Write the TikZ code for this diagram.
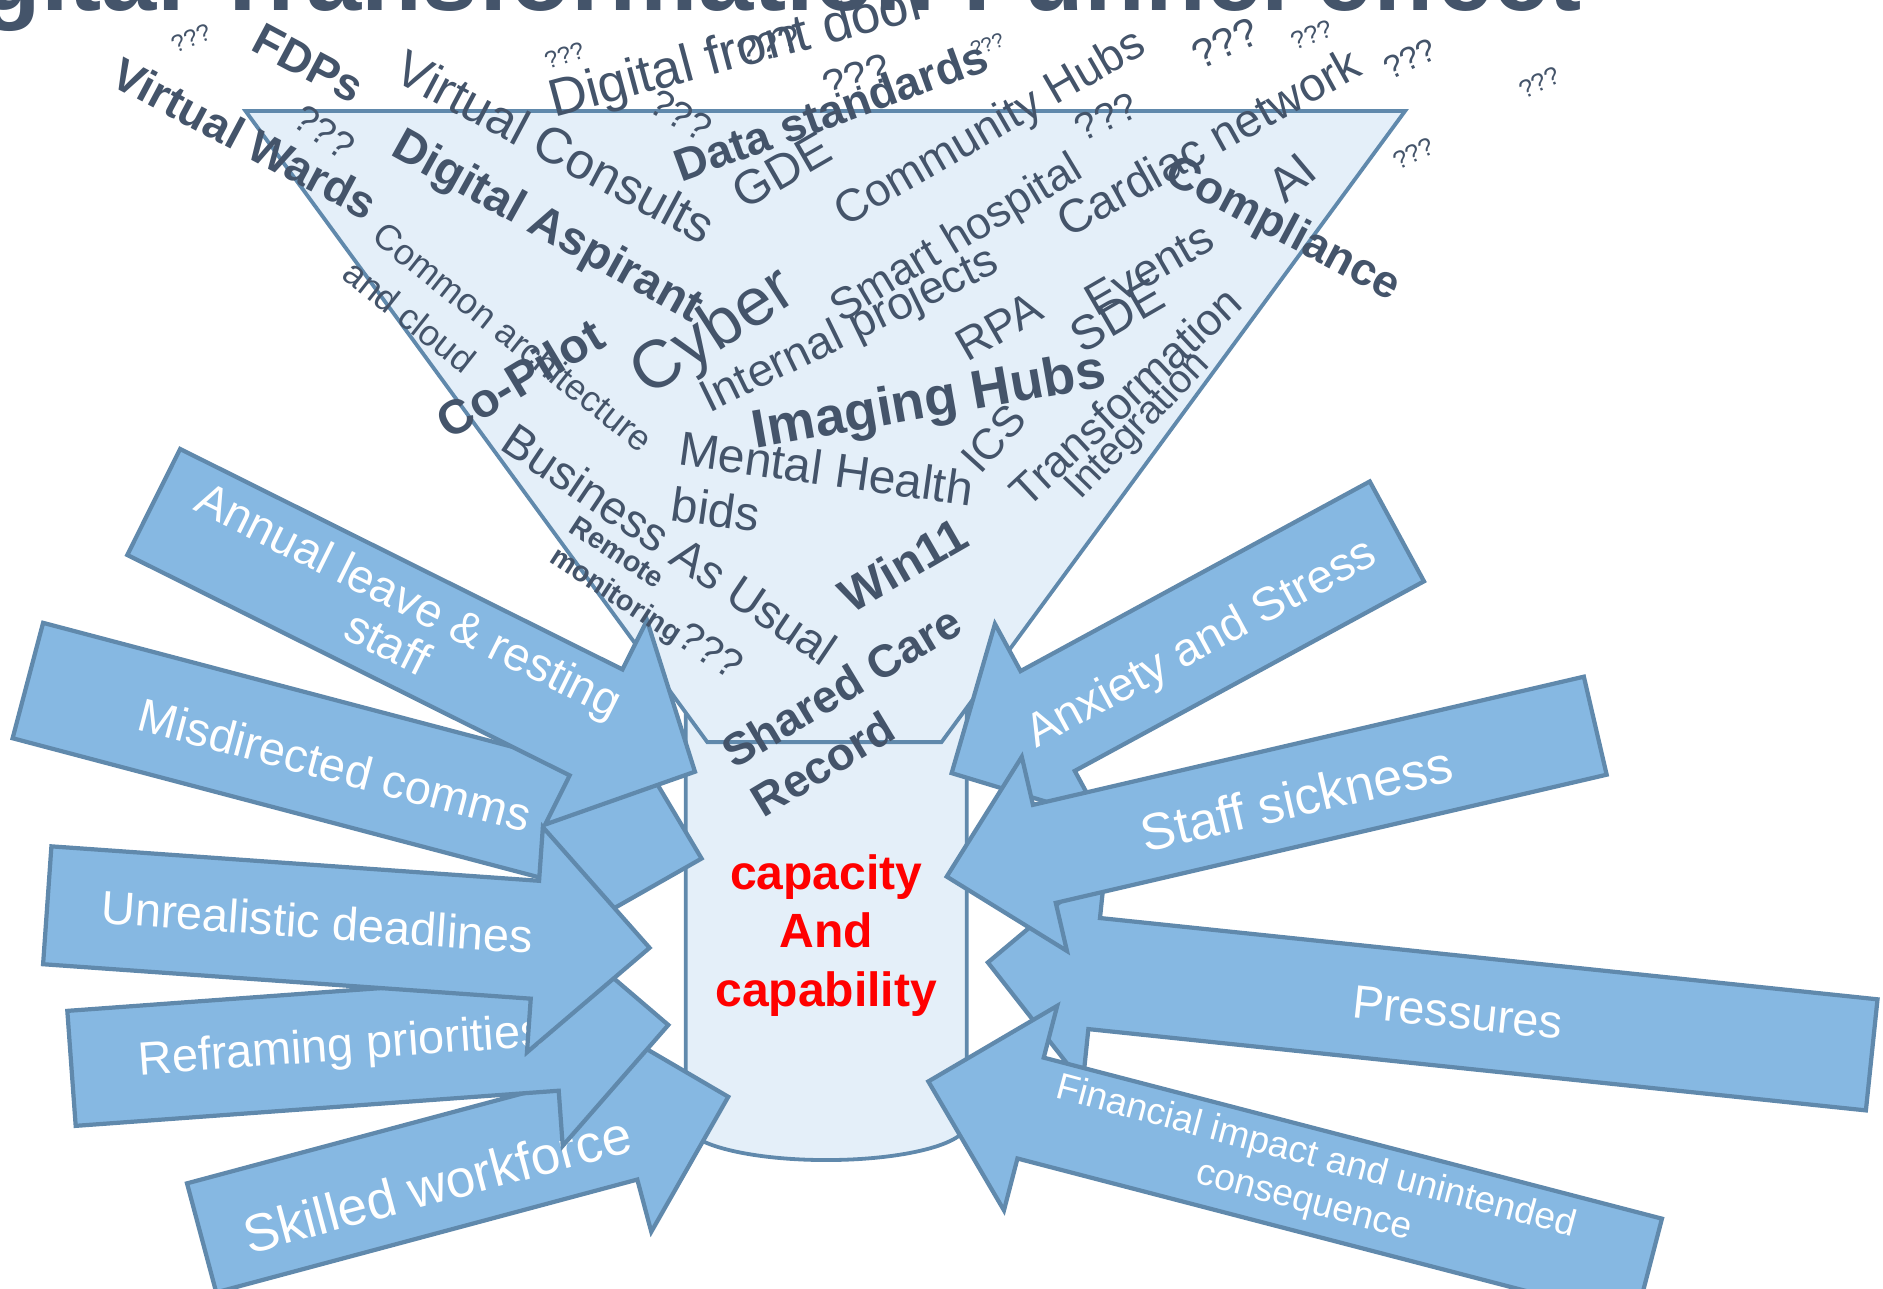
\documentclass[tikz,border=0pt]{standalone}
\usepackage{fontspec}
\setmainfont{Liberation Sans}
\definecolor{slate}{HTML}{44546A}
\definecolor{funnelfill}{HTML}{E4EFF9}
\definecolor{edgeblue}{HTML}{6089AC}
\definecolor{arrowfill}{HTML}{86B8E2}
\newcommand{\px}[1]{\fontsize{\fpeval{0.2845*#1}pt}{\fpeval{0.34*#1}pt}\selectfont}
\newcommand{\pxs}[2]{\fontsize{\fpeval{0.2845*#1}pt}{\fpeval{0.2845*#2}pt}\selectfont}
\newcommand{\blockarrow}[6]{%
  \begin{scope}[shift={(#1)},rotate=#2]
    \draw[blockbox] (0,#4) -- ({#3-#6},#4) -- ({#3-#6},#5) -- (#3,0) -- ({#3-#6},-#5) -- ({#3-#6},-#4) -- (0,-#4) -- cycle;
  \end{scope}}

\begin{document}
\begin{tikzpicture}[x=0.01cm,y=-0.01cm,word/.style={text=slate,inner sep=0pt},tag/.style={text=white,inner sep=0pt,align=center},blockbox/.style={draw=edgeblue,fill=arrowfill,line width=1pt},funnelbox/.style={draw=edgeblue,fill=funnelfill,line width=0.9pt}]
    \useasboundingbox (0,0) rectangle (1568,1073);
    \clip (0,0) rectangle (1568,1073);
    \draw[funnelbox] (571,585) -- (571,936) arc[start angle=180,end angle=0,x radius=117,y radius=30] -- (805,585) arc[start angle=0,end angle=-180,x radius=117,y radius=30] -- cycle;
    \draw[funnelbox] (204.5,92.5) -- (1170,92.5) -- (784,618) -- (589,618) -- cycle;
    \node[text=red,inner sep=0pt,align=center,font=\bfseries\pxs{40}{49}] (cap) at (688,779) {capacity\\And\\capability};

    \blockarrow{167.9,1030.8}{15}{454}{47}{92}{91}
    \node[tag,font=\px{44},rotate=15] (skilled) at (364,986) {Skilled workforce};
    \blockarrow{59.55,889.65}{4.16}{498.3}{48}{94}{95}
    \node[tag,font=\px{39},rotate=4.16] (reframe) at (284,873) {Reframing priorities};
    \blockarrow{23.2,566.7}{-14.8}{580.3}{49.7}{95}{97}
    \node[tag,font=\px{39},rotate=-14.8] (misdir) at (279,637) {Misdirected comms};
    \blockarrow{39.35,753.85}{-4.04}{502.8}{49.2}{94}{95.7}
    \node[tag,font=\px{39},rotate=-4.04] (deadline) at (264.4,767.4) {Unrealistic deadlines};
    \blockarrow{128,418}{-26.49}{503.6}{49.3}{95}{92}
    \node[tag,font=\pxs{39}{35},rotate=-26.49] (leave) at (332,517) {Annual leave \& resting\\staff};

    \blockarrow{1163.2,442.5}{208.5}{421.9}{47.3}{92}{91}
    \node[tag,font=\px{39},rotate=28.5] (anxiety) at (1001,537) {Anxiety and Stress};
    \blockarrow{1558.6,878.4}{174.03}{740}{46.5}{92}{89}
    \node[tag,font=\px{39},rotate=-6] (pressures) at (1214,843) {Pressures};
    \blockarrow{1328.4,604.3}{193.1}{554.5}{41.9}{83}{83.5}
    \node[tag,font=\px{43},rotate=13.1] (sickness) at (1079.6,664.8) {Staff sickness};
    \blockarrow{1373,1056.8}{165.4}{620}{43.4}{88}{88}
    \node[tag,font=\pxs{31}{38},rotate=-15] (financial) at (1091,982.5) {Financial impact and unintended\\consequence};

    \node[word,font=\bfseries\px{82.7},anchor=base] (title) at (609,9) {Digital Transformation Funnel effect};
    \node[word,font=\px{20},rotate=22] (q1) at (159,32) {???};
    \node[word,font=\bfseries\px{38},rotate=-28] (fdps) at (257,53) {FDPs};
    \node[word,font=\bfseries\px{38},rotate=-28] (vwards) at (204,115) {Virtual Wards};
    \node[word,font=\px{42},rotate=-28] (vconsults) at (463,122) {Virtual Consults};
    \node[word,font=\px{20},rotate=18] (q2) at (470,46) {???};
    \node[word,font=\px{44},rotate=15] (frontdoor) at (615,45) {Digital front door};
    \node[word,font=\px{32},rotate=15] (q3) at (640,38) {???};
    \node[word,font=\px{32},rotate=-30] (q4) at (567,96) {???};
    \node[word,font=\bfseries\px{38},rotate=20] (datastd) at (692,92) {Data standards};
    \node[word,font=\px{34},rotate=18] (q5) at (713,64) {???};
    \node[word,font=\px{17},rotate=20] (q6) at (822,37) {???};
    \node[word,font=\px{40},rotate=30] (gde) at (651,142) {GDE};
    \node[word,font=\px{38},rotate=30] (commhubs) at (825,108) {Community Hubs};
    \node[word,font=\px{34},rotate=25] (q7) at (1020,36) {???};
    \node[word,font=\px{21},rotate=20] (q8) at (1092,29) {???};
    \node[word,font=\px{27},rotate=25] (q9) at (1174,49) {???};
    \node[word,font=\px{21},rotate=25] (q10) at (1282,69) {???};
    \node[word,font=\px{21},rotate=25] (q11) at (1177,128) {???};
    \node[word,font=\px{32},rotate=25] (q12) at (921,97) {???};
    \node[word,font=\px{39},rotate=29] (cardiac) at (1006,118) {Cardiac network};
    \node[word,font=\px{40},rotate=40] (ai) at (1076,148) {AI};
    \node[word,font=\bfseries\px{38},rotate=-28] (compliance) at (1068,192) {Compliance};
    \node[word,font=\px{37},rotate=31] (smart) at (797,200) {Smart hospital};
    \node[word,font=\px{56},rotate=33] (cyber) at (595,278) {Cyber};
    \node[word,font=\px{38},rotate=26] (internal) at (708,276) {Internal projects};
    \node[word,font=\px{38},rotate=30] (rpa) at (832,272) {RPA};
    \node[word,font=\px{40},rotate=30] (sde) at (930,263) {SDE};
    \node[word,font=\px{38},rotate=30] (events) at (957,224) {Events};
    \node[word,font=\bfseries\px{45},rotate=10] (imaging) at (774,336) {Imaging Hubs};
    \node[word,font=\px{36},rotate=48] (ics) at (827,365) {ICS};
    \node[word,font=\px{37},rotate=43] (transform) at (937,330) {Transformation};
    \node[word,font=\px{33},rotate=46] (integration) at (948,355) {Integration};
    \node[word,font=\bfseries\px{39},rotate=-29] (aspirant) at (455,190) {Digital Aspirant};
    \node[word,font=\px{32},rotate=-35] (q13) at (270,110) {???};
    \node[word,font=\pxs{30}{40},align=left,rotate=-38.3] (common) at (415,296) {Common architecture\\and cloud};
    \node[word,font=\bfseries\px{40},rotate=31] (copilot) at (433,315) {Co-Pilot};
    \node[word,font=\px{39},rotate=-34] (bau) at (558,453) {Business As Usual};
    \node[word,font=\px{40},rotate=-8] (mental) at (688,390) {Mental Health};
    \node[word,font=\px{40},rotate=-8] (bids) at (596,424) {bids};
    \node[word,font=\pxs{24}{30},align=left,rotate=-33] (remote) at (544,500) {\textbf{Remote}\\\textbf{monitoring}{\px{34}???}};
    \node[word,font=\bfseries\px{40},rotate=30] (win) at (752,470) {Win11};
    \node[word,font=\bfseries\pxs{38}{47},align=left,rotate=31] (scr) at (713,592) {Shared Care\\Record};
\end{tikzpicture}
\end{document}
